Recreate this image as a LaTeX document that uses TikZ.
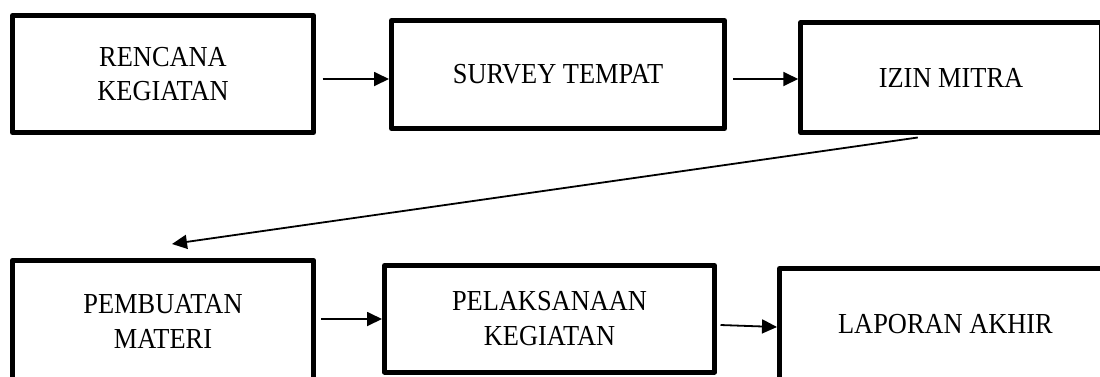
\documentclass[tikz,border=0pt]{standalone}
\usepackage{fontspec}
\setmainfont{Liberation Serif}[FakeStretch=0.91]
\usetikzlibrary{arrows.meta,calc}
\tikzset{
  box/.style={draw=black, line width=5pt, line join=round, fill=white, rectangle, inner sep=0pt,
    align=center, font=\fontsize{29}{34.5}\selectfont},
  arr/.style={draw=black, line width=1.8pt, -{Triangle[length=15pt,width=14pt]}}
}
\begin{document}
\begin{tikzpicture}[x=1pt,y=-1pt]
\useasboundingbox (0,0) rectangle (1100,376);
\clip (0,0) rectangle (1100,376);
% top row
\node[box, minimum width=301pt, minimum height=117pt] (b1) at (163,74) {RENCANA\\KEGIATAN};
\node[box, minimum width=333pt, minimum height=108pt] (b2) at (558,74.5) {SURVEY TEMPAT};
\node[box, minimum width=300.5pt, minimum height=110pt] (b3) at (951,77.5) {IZIN MITRA};
% bottom row
\node[box, minimum width=301pt, minimum height=122.5pt] (b4) at (163,321.5) {PEMBUATAN\\MATERI};
\node[box, minimum width=330pt, minimum height=106.5pt] (b5) at (549.5,318.75) {PELAKSANAAN\\KEGIATAN};
\node[box, minimum width=332pt, minimum height=111pt] (b6) at (945.5,324) {LAPORAN AKHIR};
% connectors
\coordinate (a1s) at ($(b1.east)+(6.5,5)$);
\draw[arr] (a1s) -- (a1s -| b2.west);
\coordinate (a2s) at ($(b2.east)+(6,4.5)$);
\draw[arr] (a2s) -- (a2s -| b3.west);
\coordinate (a3s) at ($(b3.south west)+(119.5,2.5)$);
\coordinate (a3e) at (172,244);
\draw[arr] (a3s) -- (a3e);
\coordinate (a4s) at ($(b4.east)+(5,-2.5)$);
\draw[arr] (a4s) -- (a4s -| b5.west);
\coordinate (a5s) at ($(b5.east)+(3.5,6.25)$);
\draw[arr] (a5s) -- ($(b6.west)+(0,3)$);
\end{tikzpicture}
\end{document}
